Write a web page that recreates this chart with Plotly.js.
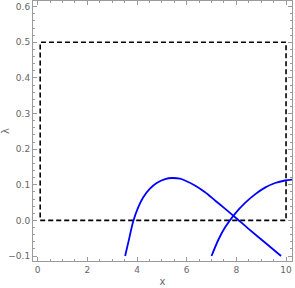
<!DOCTYPE html>
<html><head><meta charset="utf-8">
<script src="https://cdn.plot.ly/plotly-3.0.1.min.js"></script>
<style>html,body{margin:0;padding:0;background:#fff;}#c{width:295px;height:288px;}</style>
</head><body><div id="c"></div>
<script>
const curve1X = [3.52, 3.65, 3.85, 4.05, 4.25, 4.52, 4.79, 5.13, 5.42, 5.73, 5.93, 6.33, 6.74, 7.14, 7.54, 7.95, 8.48, 9.15, 9.80];
const curve1Y = [-0.1, -0.061, -0.002, 0.037, 0.065, 0.089, 0.105, 0.116, 0.119, 0.117, 0.112, 0.098, 0.079, 0.056, 0.033, 0.009, -0.023, -0.062, -0.1];
const curve2X = [7.0, 7.27, 7.54, 7.95, 8.35, 8.75, 9.15, 9.56, 9.96, 10.36];
const curve2Y = [-0.1, -0.055, -0.02, 0.019, 0.049, 0.073, 0.092, 0.105, 0.112, 0.115];
const boxX = [0.1, 10, 10, 0.1, 0.1];
const boxY = [0, 0, 0.5, 0.5, 0];

const gray = '#9a9a9a';
const tickFont = {family: 'DejaVu Sans, Arial', size: 9, color: '#666'};
const traces = [
  {x: boxX, y: boxY, mode: 'lines', line: {color: 'black', width: 1.6, dash: '5px,3px'}, hoverinfo: 'skip'},
  {x: curve1X, y: curve1Y, mode: 'lines', line: {color: '#0000ff', width: 1.8, shape: 'spline', smoothing: 0.8}},
  {x: curve2X, y: curve2Y, mode: 'lines', line: {color: '#0000ff', width: 1.8, shape: 'spline', smoothing: 0.8}}
];
const layout = {
  width: 295, height: 288,
  margin: {l: 33, r: 3, t: 1, b: 27},
  showlegend: false,
  paper_bgcolor: 'white', plot_bgcolor: 'white',
  xaxis: {
    range: [-0.19, 10.24], dtick: 2, tick0: 0, showgrid: false, zeroline: false,
    showline: true, linecolor: gray, linewidth: 1, mirror: 'allticks',
    ticks: 'inside', ticklen: 4, tickcolor: gray, tickfont: tickFont,
    minor: {dtick: 0.5, ticks: 'inside', ticklen: 2, tickcolor: gray},
    title: {text: 'x', font: {family: 'DejaVu Sans, Arial', size: 10, color: '#666'}, standoff: 4}
  },
  yaxis: {
    range: [-0.114, 0.616], dtick: 0.1, tick0: 0, tickformat: '.1f', showgrid: false, zeroline: false,
    showline: true, linecolor: gray, linewidth: 1, mirror: 'allticks',
    ticks: 'inside', ticklen: 4, tickcolor: gray, tickfont: tickFont,
    minor: {dtick: 0.02, ticks: 'inside', ticklen: 2, tickcolor: gray},
    title: {text: 'λ', font: {family: 'DejaVu Sans, Arial', size: 10, color: '#666'}, standoff: 6}
  }
};
Plotly.newPlot('c', traces, layout, {displayModeBar: false, staticPlot: true});
</script></body></html>
